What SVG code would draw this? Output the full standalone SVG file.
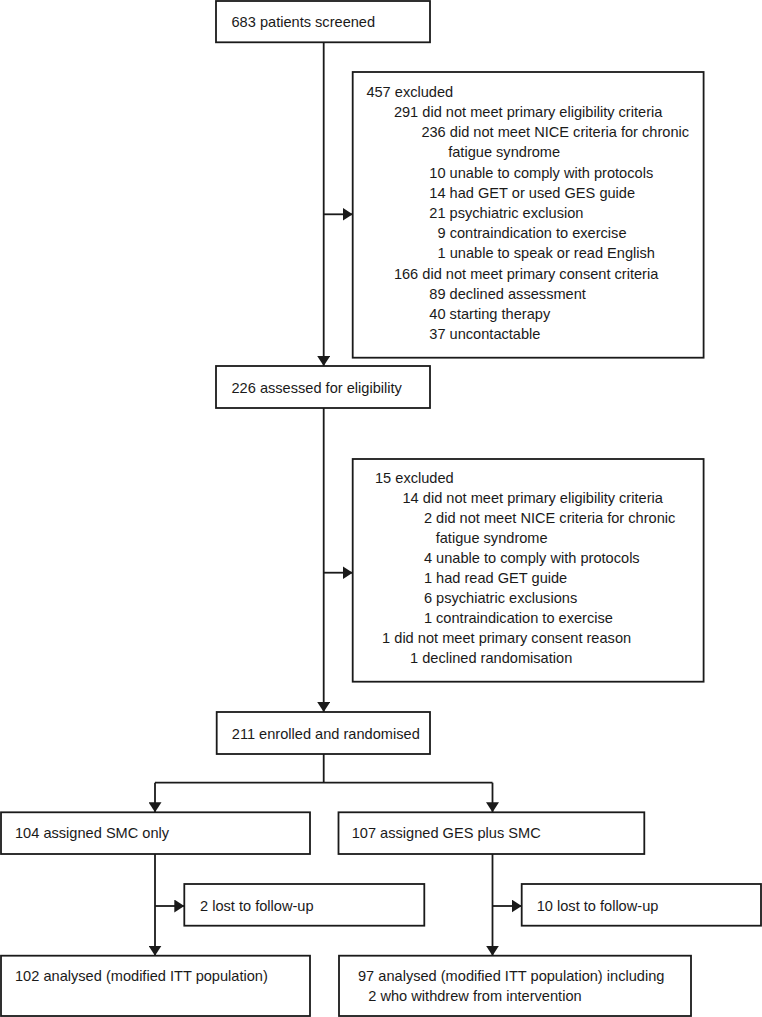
<svg xmlns="http://www.w3.org/2000/svg" width="762" height="1017" viewBox="0 0 762 1017">
<defs>
<style>
.box{fill:#fff;stroke:#1a1a1a;stroke-width:1.8}
.t{font-family:"Liberation Sans",Arial,sans-serif;font-size:14.6px;fill:#1a1a1a}
.c{fill:none;stroke:#1a1a1a;stroke-width:1.8}
</style>
<marker id="ah" markerUnits="userSpaceOnUse" markerWidth="11" markerHeight="13" refX="10" refY="6.5" orient="auto">
<path d="M0,0 L10,6.5 L0,13 z" fill="#1a1a1a"/>
</marker>
</defs>
<rect width="762" height="1017" fill="#fff"/>
<g id="connectors">
<line class="c" x1="323.7" y1="42" x2="323.7" y2="366" marker-end="url(#ah)"/>
<line class="c" x1="323.7" y1="214.3" x2="352.7" y2="214.3" marker-end="url(#ah)"/>
<line class="c" x1="323.7" y1="408" x2="323.7" y2="712" marker-end="url(#ah)"/>
<line class="c" x1="323.7" y1="572.7" x2="352.7" y2="572.7" marker-end="url(#ah)"/>
<polyline class="c" points="323.7,754 323.7,782.7"/>
<polyline class="c" points="155,782.7 492.5,782.7"/>
<line class="c" x1="155" y1="782.7" x2="155" y2="812.3" marker-end="url(#ah)"/>
<line class="c" x1="492.5" y1="782.7" x2="492.5" y2="812.3" marker-end="url(#ah)"/>
<line class="c" x1="155" y1="854" x2="155" y2="955.7" marker-end="url(#ah)"/>
<line class="c" x1="155" y1="906" x2="184.3" y2="906" marker-end="url(#ah)"/>
<line class="c" x1="492.5" y1="854" x2="492.5" y2="955.7" marker-end="url(#ah)"/>
<line class="c" x1="492.5" y1="906" x2="521.7" y2="906" marker-end="url(#ah)"/>
</g>
<g id="screened">
<rect class="box" x="216" y="1" width="214" height="41.3"/>
<text class="t" x="231.5" y="26.7">683 patients screened</text>
</g>
<g id="excluded1">
<rect class="box" x="352.7" y="72" width="350.9" height="285.7"/>
<text class="t" x="366.4" y="96.7">457 excluded</text>
<text class="t" x="393.9" y="116.9">291 did not meet primary eligibility criteria</text>
<text class="t" x="421.4" y="137.1">236 did not meet NICE criteria for chronic</text>
<text class="t" x="448.2" y="157.3">fatigue syndrome</text>
<text class="t" x="429.3" y="177.5">10 unable to comply with protocols</text>
<text class="t" x="429.3" y="197.7">14 had GET or used GES guide</text>
<text class="t" x="429.3" y="217.9">21 psychiatric exclusion</text>
<text class="t" x="437.5" y="238.1">9 contraindication to exercise</text>
<text class="t" x="437.5" y="258.3">1 unable to speak or read English</text>
<text class="t" x="393.9" y="278.5">166 did not meet primary consent criteria</text>
<text class="t" x="429.3" y="298.7">89 declined assessment</text>
<text class="t" x="429.3" y="318.9">40 starting therapy</text>
<text class="t" x="429.3" y="339.1">37 uncontactable</text>
</g>
<g id="assessed">
<rect class="box" x="216" y="366" width="214" height="42"/>
<text class="t" x="231.5" y="392.5">226 assessed for eligibility</text>
</g>
<g id="excluded2">
<rect class="box" x="352.7" y="459" width="350.9" height="222.7"/>
<text class="t" x="375" y="482.7">15 excluded</text>
<text class="t" x="402.5" y="502.8">14 did not meet primary eligibility criteria</text>
<text class="t" x="423.9" y="522.8">2 did not meet NICE criteria for chronic</text>
<text class="t" x="435.7" y="542.9">fatigue syndrome</text>
<text class="t" x="423.9" y="563">4 unable to comply with protocols</text>
<text class="t" x="423.9" y="583">1 had read GET guide</text>
<text class="t" x="423.9" y="603.1">6 psychiatric exclusions</text>
<text class="t" x="423.9" y="623.2">1 contraindication to exercise</text>
<text class="t" x="382.1" y="643.3">1 did not meet primary consent reason</text>
<text class="t" x="410" y="663.3">1 declined randomisation</text>
</g>
<g id="randomised">
<rect class="box" x="216.7" y="712" width="213.3" height="42"/>
<text class="t" x="231.8" y="738.5">211 enrolled and randomised</text>
</g>
<g id="smc">
<rect class="box" x="1" y="812.3" width="309" height="41.7"/>
<text class="t" x="15" y="837.7">104 assigned SMC only</text>
</g>
<g id="ges">
<rect class="box" x="338.5" y="812.3" width="305.8" height="41.7"/>
<text class="t" x="351.7" y="837.7">107 assigned GES plus SMC</text>
</g>
<g id="lost-smc">
<rect class="box" x="184.3" y="884" width="240" height="41.7"/>
<text class="t" x="200" y="910.5">2 lost to follow-up</text>
</g>
<g id="lost-ges">
<rect class="box" x="521.7" y="884" width="239.3" height="41.7"/>
<text class="t" x="536.7" y="910.5">10 lost to follow-up</text>
</g>
<g id="analysed-smc">
<rect class="box" x="1" y="955.7" width="309" height="60.3"/>
<text class="t" x="15" y="980.7">102 analysed (modified ITT population)</text>
</g>
<g id="analysed-ges">
<rect class="box" x="339" y="955.7" width="352" height="60.3"/>
<text class="t" x="358" y="980.7">97 analysed (modified ITT population) including</text>
<text class="t" x="368.3" y="1000.7">2 who withdrew from intervention</text>
</g>
</svg>
